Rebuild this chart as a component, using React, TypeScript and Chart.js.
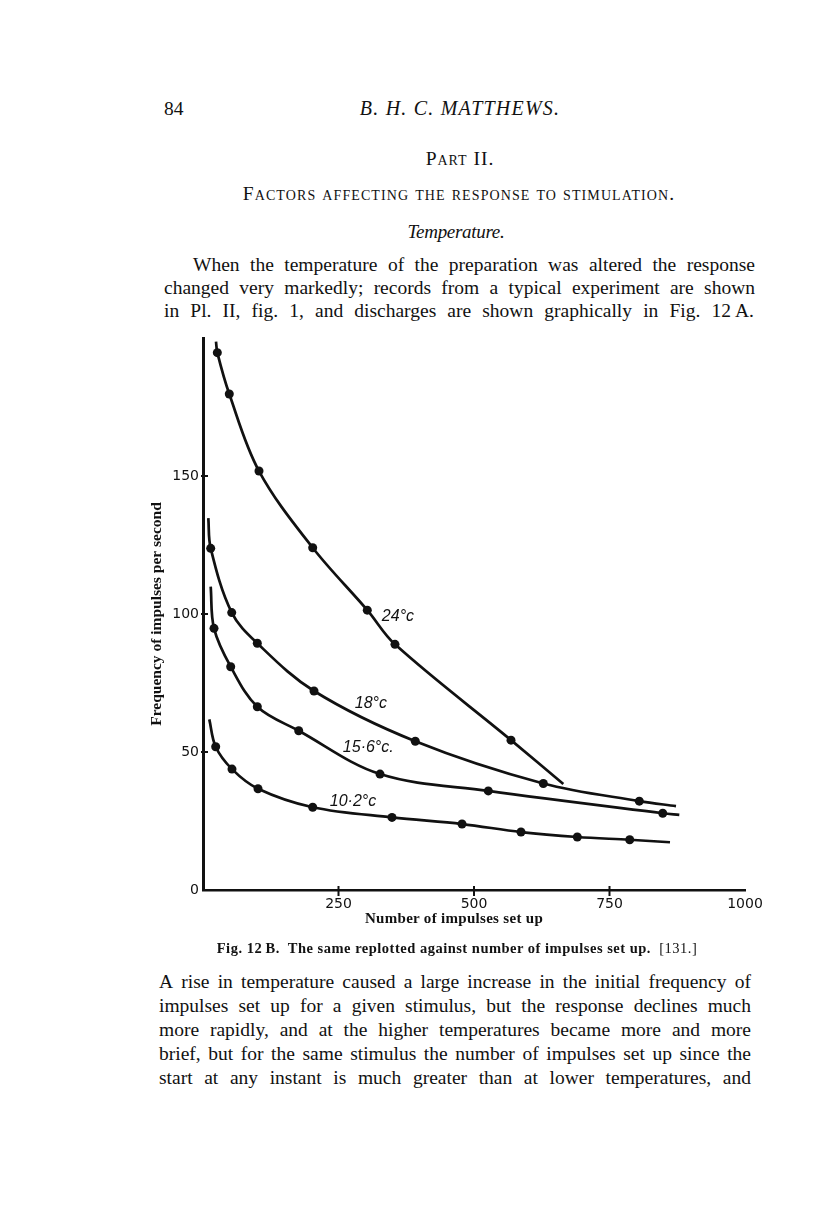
import React, { useEffect, useRef } from "react";
import { Chart, registerables } from "chart.js";

Chart.register(...registerables);

// ---------- data ----------
// 24 °C
const t24Start = [24, 198.7];
const t24X = [26.4, 48.5, 103.3, 202.4, 303.1, 354.2, 568.3];
const t24Y = [194.7, 179.7, 151.8, 124.0, 101.4, 89.0, 54.3];
const t24End = [664.8, 38.4];
// 18 °C
const t18Start = [9.8, 134.7];
const t18X = [14.2, 53.0, 100.2, 204.8, 391.7, 627.9, 805.0];
const t18Y = [123.8, 100.5, 89.4, 72.1, 53.9, 38.6, 32.2];
const t18End = [872.7, 30.4];
// 15.6 °C
const t156Start = [14.2, 109.9];
const t156X = [20.3, 51.1, 100.2, 176.6, 326.6, 526.4, 848.2];
const t156Y = [94.8, 80.9, 66.4, 57.7, 42.0, 35.9, 27.8];
const t156End = [878.8, 27.2];
// 10.2 °C
const t102Start = [11.6, 61.8];
const t102X = [23.4, 53.5, 101.5, 202.4, 348.7, 477.9, 586.7, 690.6, 787.3];
const t102Y = [51.9, 43.8, 36.7, 30.0, 26.3, 23.9, 21.0, 19.2, 18.2];
const t102End = [861.6, 17.3];

// curve labels (text + anchor in data units)
const curveLabelText = ["24°c", "18°c", "15·6°c.", "10·2°c"];
const curveLabelX = [330, 280, 258, 234];
const curveLabelY = [97.5, 65.9, 50, 30.4];

// axes
const xTickLabels = [250, 500, 750, 1000];
const yTickLabels = [0, 50, 100, 150];
const xTickMarks = [250, 500, 750];
const yTickMarks = [50, 100, 150];
const xTitle = "Number of impulses set up";
const yTitle = "Frequency of impulses per second";

const SERIF = '"Liberation Serif", "Times New Roman", serif';
const INK = "#111";

function buildSeries(start: number[], xs: number[], ys: number[], end: number[]) {
  return [
    { x: start[0], y: start[1] },
    ...xs.map((x, i) => ({ x, y: ys[i] })),
    { x: end[0], y: end[1] },
  ];
}

function lineDataset(data: { x: number; y: number }[]) {
  const n = data.length;
  return {
    data,
    borderColor: INK,
    borderWidth: 2.7,
    tension: 0.35,
    pointRadius: (c: any) => (c.dataIndex === 0 || c.dataIndex === n - 1 ? 0 : 4.5),
    pointBackgroundColor: INK,
    pointBorderWidth: 0,
    fill: false,
  };
}

const tickMarksPlugin = {
  id: "tickMarks",
  afterDraw(chart: any) {
    const { ctx, scales } = chart;
    const x = scales.x;
    const y = scales.y;
    ctx.save();
    ctx.strokeStyle = INK;
    ctx.lineWidth = 2;
    for (const v of xTickMarks) {
      const px = x.getPixelForValue(v);
      ctx.beginPath();
      ctx.moveTo(px, y.bottom - 4);
      ctx.lineTo(px, y.bottom + 6);
      ctx.stroke();
    }
    for (const v of yTickMarks) {
      const py = y.getPixelForValue(v);
      ctx.beginPath();
      ctx.moveTo(x.left - 2, py);
      ctx.lineTo(x.left + 5, py);
      ctx.stroke();
    }
    ctx.restore();
  },
};

const curveLabelPlugin = {
  id: "curveLabels",
  afterDatasetsDraw(chart: any) {
    const { ctx, scales } = chart;
    ctx.save();
    ctx.fillStyle = INK;
    ctx.font = 'italic 16px "Liberation Sans", Arial, sans-serif';
    ctx.textAlign = "left";
    ctx.textBaseline = "alphabetic";
    curveLabelText.forEach((t, i) => {
      ctx.fillText(t, scales.x.getPixelForValue(curveLabelX[i]), scales.y.getPixelForValue(curveLabelY[i]));
    });
    ctx.restore();
  },
};

function FigureChart() {
  const ref = useRef<HTMLCanvasElement | null>(null);
  useEffect(() => {
    if (!ref.current) return;
    const chart = new Chart(ref.current, {
      type: "line",
      data: {
        datasets: [
          lineDataset(buildSeries(t24Start, t24X, t24Y, t24End)),
          lineDataset(buildSeries(t18Start, t18X, t18Y, t18End)),
          lineDataset(buildSeries(t156Start, t156X, t156Y, t156End)),
          lineDataset(buildSeries(t102Start, t102X, t102Y, t102End)),
        ] as any,
      },
      options: {
        animation: false,
        responsive: false,
        maintainAspectRatio: false,
        layout: { padding: { left: 0, right: 35, top: 18, bottom: 0 } },
        plugins: { legend: { display: false }, tooltip: { enabled: false } },
        scales: {
          x: {
            type: "linear",
            min: 0,
            max: 1000,
            grid: { display: false, drawTicks: false },
            border: { display: true, color: INK, width: 2.6 },
            ticks: {
              stepSize: 250,
              padding: 6,
              color: INK,
              maxRotation: 0,
              autoSkip: false,
              font: { family: '"DejaVu Sans", sans-serif', size: 14 },
              callback: (v: any) => (xTickLabels.includes(Number(v)) ? String(v) : ""),
            },
            afterFit: (s: any) => {
              s.height = 50;
            },
          },
          y: {
            type: "linear",
            min: 0,
            max: 200,
            grid: { display: false, drawTicks: false },
            border: { display: true, color: INK, width: 3 },
            ticks: {
              stepSize: 50,
              padding: 4,
              color: INK,
              font: { family: '"DejaVu Sans", sans-serif', size: 14 },
              callback: (v: any) => (yTickLabels.includes(Number(v)) ? String(v) : ""),
            },
            title: {
              display: true,
              text: yTitle,
              color: INK,
              font: { family: SERIF, size: 15.5, weight: "bold" },
              padding: { top: 8, bottom: 0 },
            },
            afterFit: (s: any) => {
              s.width = 63;
            },
          },
        },
      } as any,
      plugins: [tickMarksPlugin, curveLabelPlugin],
    });
    return () => chart.destroy();
  }, []);
  return (
    <canvas
      ref={ref}
      width={640}
      height={620}
      style={{ position: "absolute", left: 140, top: 320, width: 640, height: 620 }}
    />
  );
}

// text helpers: position by baseline (Liberation Serif metrics)
function topFor(baseline: number, size: number) {
  return baseline - 0.8375 * size;
}

function Text(props: {
  left?: number;
  center?: number;
  baseline: number;
  size: number;
  style?: React.CSSProperties;
  children: React.ReactNode;
}) {
  const { left, center, baseline, size, style, children } = props;
  const pos: React.CSSProperties =
    center !== undefined
      ? { left: center - 350, width: 700, textAlign: "center" }
      : { left };
  return (
    <div
      style={{
        position: "absolute",
        top: topFor(baseline, size),
        fontFamily: SERIF,
        fontSize: size,
        lineHeight: `${size}px`,
        whiteSpace: "pre",
        color: INK,
        ...pos,
        ...style,
      }}
    >
      {children}
    </div>
  );
}

function JLine(props: { left: number; right: number; baseline: number; text: string; size?: number }) {
  const size = props.size ?? 19.5;
  const words = props.text.split(" ");
  return (
    <div
      style={{
        position: "absolute",
        left: props.left,
        width: props.right - props.left,
        top: topFor(props.baseline, size),
        height: size,
        lineHeight: `${size}px`,
        fontSize: size,
        fontFamily: SERIF,
        display: "flex",
        justifyContent: "space-between",
        whiteSpace: "nowrap",
        color: INK,
      }}
    >
      {words.map((w, i) => (
        <span key={i}>{w}</span>
      ))}
    </div>
  );
}

const para1 = [
  "When the temperature of the preparation was altered the response",
  "changed very markedly; records from a typical experiment are shown",
  "in Pl. II, fig. 1, and discharges are shown graphically in Fig. 12\u2009A.",
];
const para1Baselines = [271, 294, 317];

const para2 = [
  "A rise in temperature caused a large increase in the initial frequency of",
  "impulses set up for a given stimulus, but the response declines much",
  "more rapidly, and at the higher temperatures became more and more",
  "brief, but for the same stimulus the number of impulses set up since the",
  "start at any instant is much greater than at lower temperatures, and",
];
const para2Baselines = [988, 1012, 1036, 1060, 1084];

export default function App() {
  return (
    <div
      style={{
        position: "absolute",
        left: 0,
        top: 0,
        width: 816,
        height: 1221,
        background: "#fff",
        overflow: "hidden",
      }}
    >
      <Text left={164} baseline={115} size={19.5}>84</Text>
      <Text center={460} baseline={115} size={20} style={{ fontStyle: "italic", letterSpacing: 1.2 }}>
        B. H. C. MATTHEWS.
      </Text>
      <Text center={460} baseline={165} size={19.5} style={{ fontVariant: "small-caps", letterSpacing: 1 }}>
        Part II.
      </Text>
      <Text center={459} baseline={200} size={19.5} style={{ fontVariant: "small-caps", letterSpacing: 1.1 }}>
        Factors affecting the response to stimulation.
      </Text>
      <Text center={456} baseline={238} size={19} style={{ fontStyle: "italic", letterSpacing: -0.3 }}>
        Temperature.
      </Text>

      <JLine left={193} right={755} baseline={para1Baselines[0]} text={para1[0]} />
      <JLine left={164} right={755} baseline={para1Baselines[1]} text={para1[1]} />
      <JLine left={164} right={754} baseline={para1Baselines[2]} text={para1[2]} />

      <FigureChart />

      <Text center={454} baseline={924} size={15} style={{ fontWeight: "bold", letterSpacing: 0.3 }}>
        {xTitle}
      </Text>
      <Text center={457} baseline={953} size={14.5} style={{ fontWeight: "bold", letterSpacing: 0.5 }}>
        {"Fig. 12\u2009B.  The same replotted against number of impulses set up.  "}
        <span style={{ fontWeight: "normal" }}>[131.]</span>
      </Text>

      {para2.map((t, i) => (
        <JLine key={i} left={159} right={751} baseline={para2Baselines[i]} text={t} />
      ))}
    </div>
  );
}
